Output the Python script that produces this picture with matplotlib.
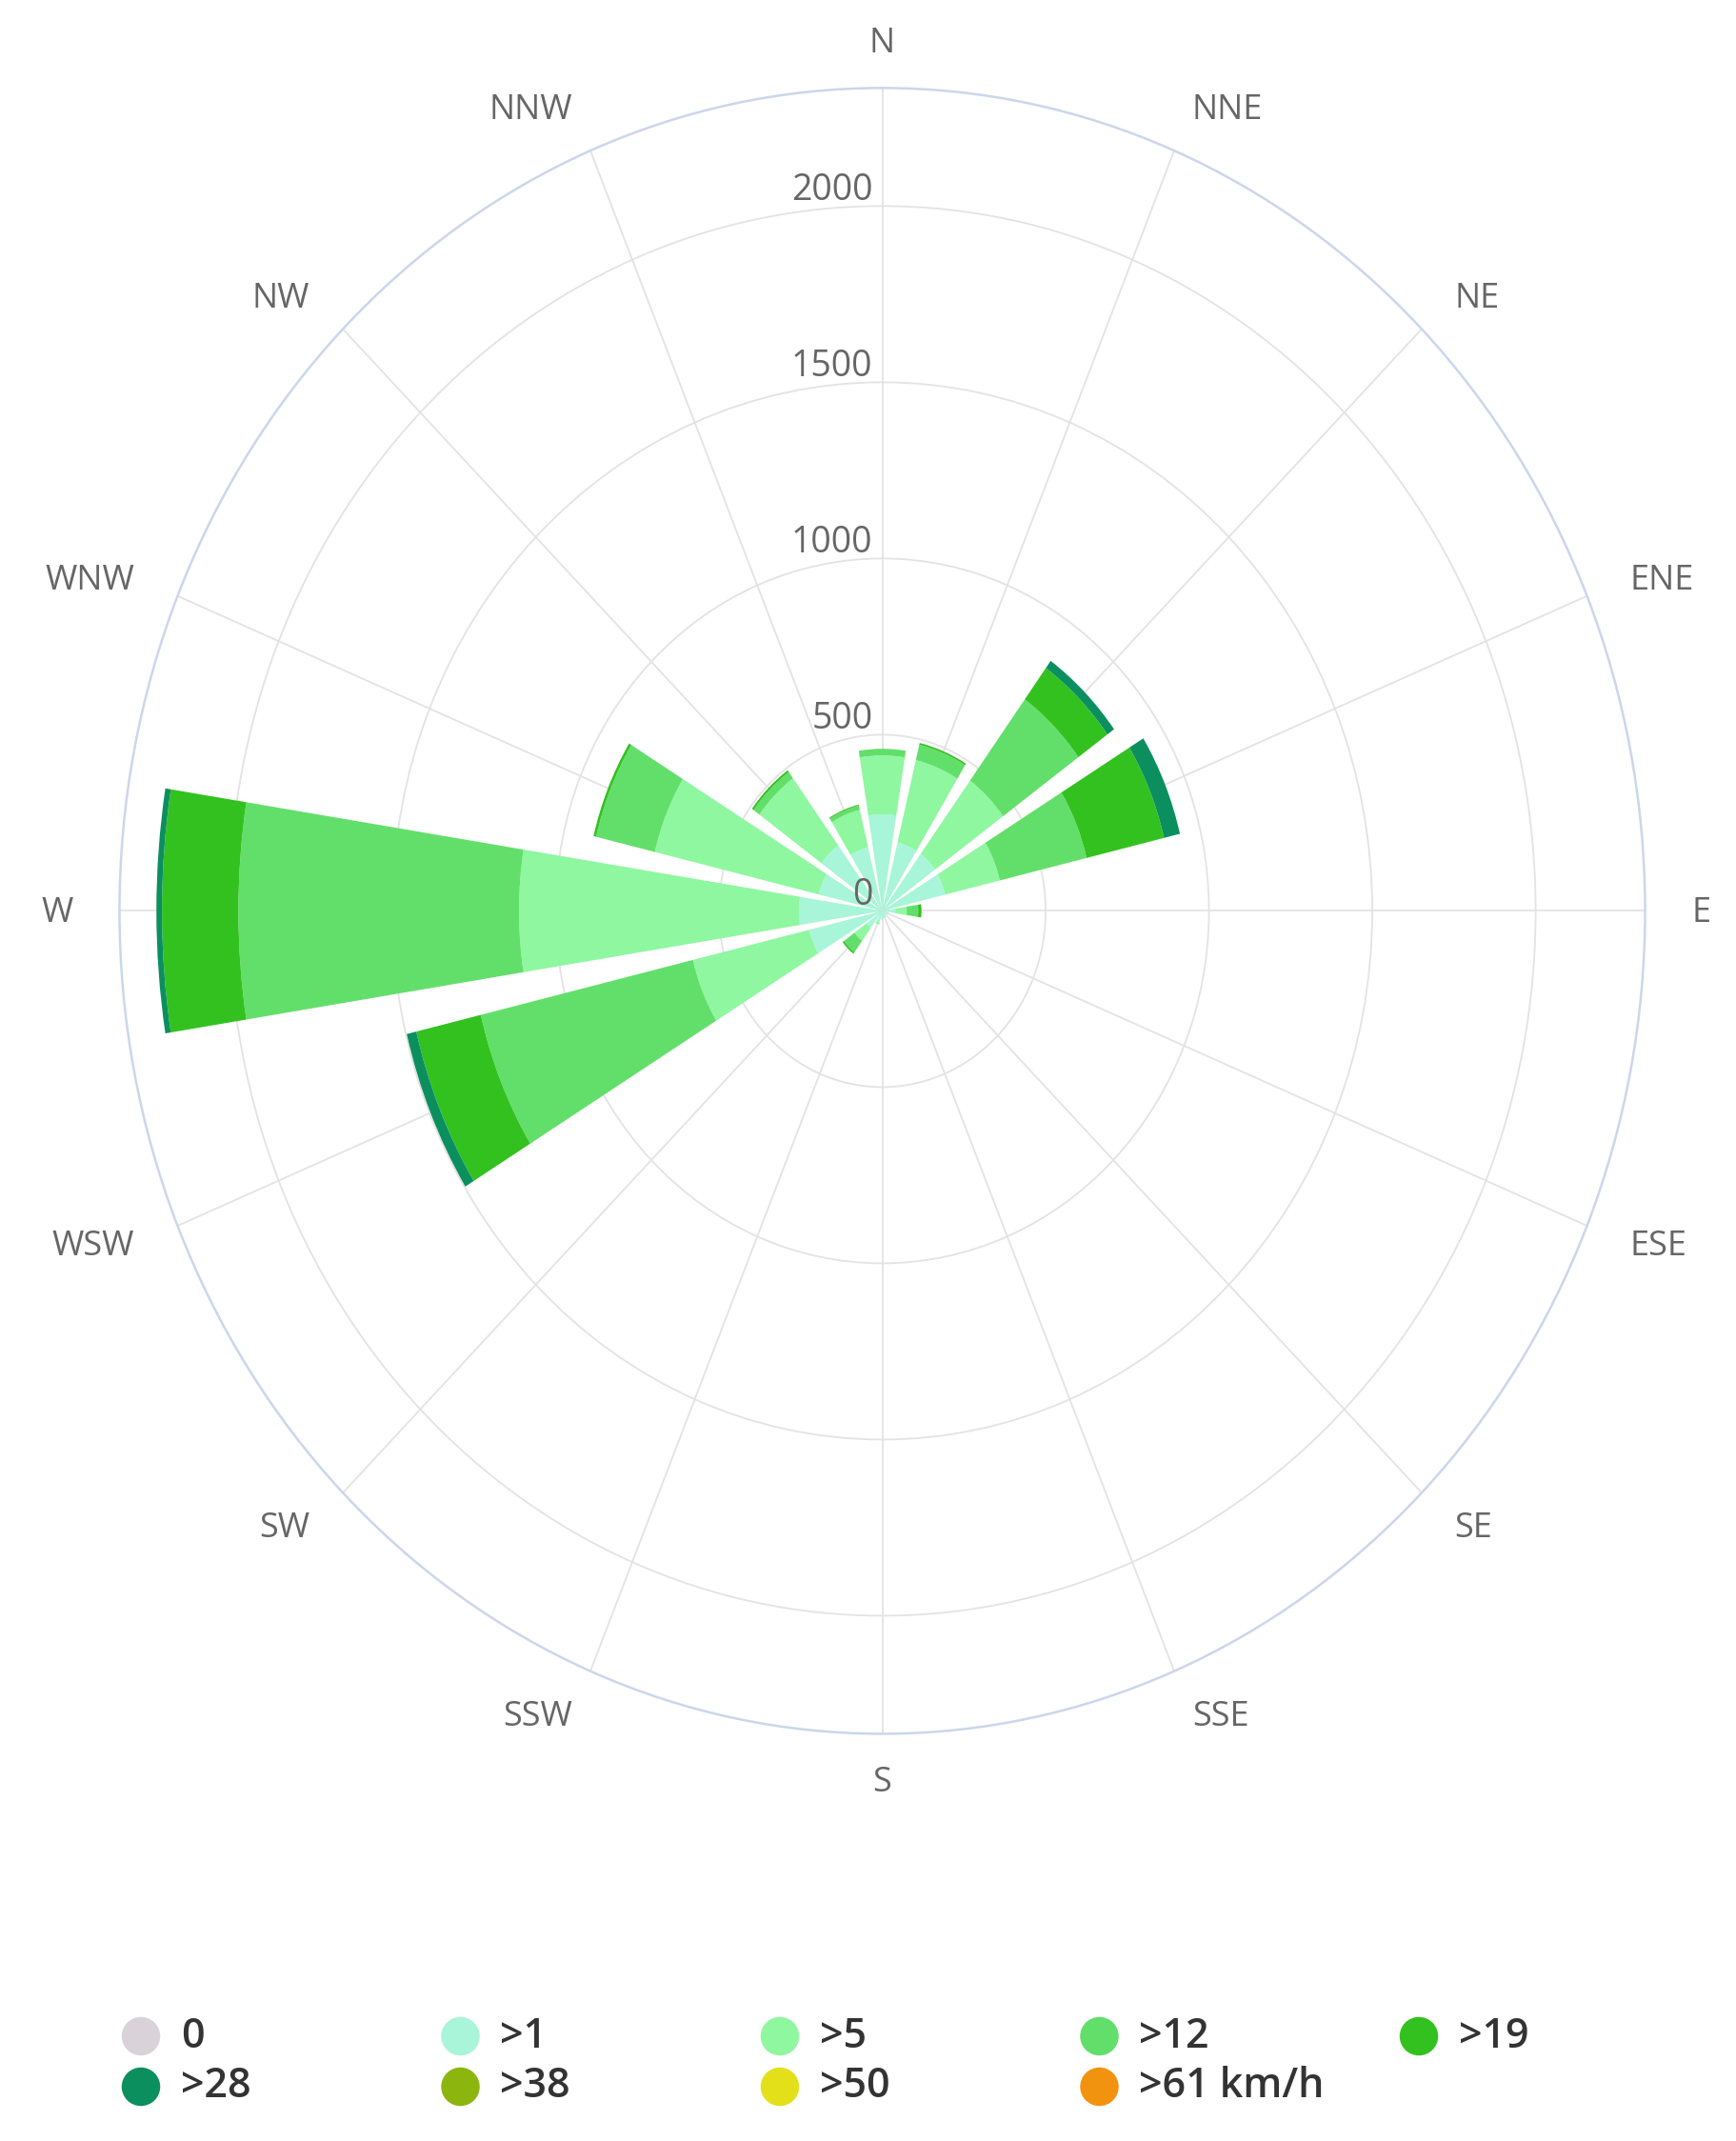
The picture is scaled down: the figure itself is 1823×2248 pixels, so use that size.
import numpy as np
import matplotlib
matplotlib.use("Agg")
import matplotlib.pyplot as plt

plt.rcParams["font.family"] = ["Open Sans", "DejaVu Sans"]

# wind directions (clockwise from north)
directions = ["N", "NNE", "NE", "ENE", "E", "ESE", "SE", "SSE",
              "S", "SSW", "SW", "WSW", "W", "WNW", "NW", "NNW"]

# speed classes
speed_labels = ["0", ">1", ">5", ">12", ">19", ">28", ">38", ">50", ">61 km/h"]
speed_colors = ["#d9d3d9", "#a8f5d9", "#8ef7a0", "#62df6a", "#33c11f",
                "#0b8f5f", "#8cb50d", "#e3e01a", "#f2930f"]

# counts per direction for every speed class (stacked)
calm = [0, 0, 0, 0, 0, 0, 0, 0, 0, 0, 0, 0, 0, 0, 0, 0]
s1 = [274, 200, 200, 198, 40, 20, 15, 20, 25, 35, 60, 230, 255, 200, 230, 186]
s5 = [167, 240, 257, 172, 35, 0, 0, 0, 0, 5, 45, 366, 857, 516, 235, 109]
s12 = [19, 45, 285, 273, 35, 0, 0, 0, 0, 0, 40, 668, 859, 185, 22, 12]
s19 = [0, 5, 110, 244, 10, 0, 0, 0, 0, 0, 5, 203, 234, 8, 6, 3]
s28 = [0, 0, 25, 50, 0, 0, 0, 0, 0, 0, 0, 30, 17, 0, 0, 0]
s38 = [0] * 16
s50 = [0] * 16
s61 = [0] * 16

radial_ticks = [0, 500, 1000, 1500, 2000]
r_max = 2335

series = [calm, s1, s5, s12, s19, s28, s38, s50, s61]

W, H = 1824, 2248
fig = plt.figure(figsize=(W / 100, H / 100), dpi=100)
fig.patch.set_facecolor("white")

ax = fig.add_axes([0.0688, 0.1902, 0.8783, 0.7687], projection="polar")
ax.set_aspect("auto")
ax.set_theta_zero_location("N")
ax.set_theta_direction(-1)
ax.set_ylim(0, r_max)
ax.set_axisbelow(True)

n = len(directions)
sector = 2 * np.pi / n
theta = np.arange(n) * sector

bottom = np.zeros(n)
for vals, col in zip(series, speed_colors):
    vals = np.asarray(vals, dtype=float)
    ax.bar(theta, vals, width=sector * 0.8, bottom=bottom, color=col,
           edgecolor="none", linewidth=0, align="center", zorder=3)
    bottom += vals

# grid
ax.set_xticks(theta)
ax.set_xticklabels([])
ax.set_yticks(radial_ticks[1:])
ax.set_yticklabels([])
ax.xaxis.grid(True, color="#e3e3e3", linewidth=1.3)
ax.yaxis.grid(True, color="#e3e3e3", linewidth=1.3)
ax.tick_params(length=0)
ax.spines["polar"].set_color("#ccd6eb")
ax.spines["polar"].set_linewidth(1.8)

# radial labels along the north axis
for r in radial_ticks:
    ax.annotate(str(r), xy=(0, r), xytext=(-10, 16), textcoords="offset pixels",
                ha="right", va="center", fontsize=27, color="#666666", zorder=5)

# direction labels, anchored just outside the pane
for t, lab in zip(theta, directions):
    s, c = np.sin(t), np.cos(t)
    if s > 0.01:
        ha = "left"
    elif s < -0.01:
        ha = "right"
    else:
        ha = "center"
    ax.annotate(lab, xy=(t, r_max), xytext=(49 * s, 49 * c - 3),
                textcoords="offset pixels", ha=ha, va="center",
                fontsize=26, color="#666666", annotation_clip=False)

# legend drawn on a full-figure overlay
lax = fig.add_axes([0, 0, 1, 1], zorder=-1)
lax.set_xlim(0, W)
lax.set_ylim(H, 0)
lax.axis("off")
x0, dx = 148, 335.5
y_rows = [2138, 2191]
for i, (lab, col) in enumerate(zip(speed_labels, speed_colors)):
    row, c = divmod(i, 5)
    x = x0 + c * dx
    y = y_rows[row]
    lax.scatter([x], [y], s=850, color=col, edgecolors="none")
    lax.text(x + 42, y, lab, ha="left", va="center", fontsize=31,
             fontweight="semibold", color="#333333")

fig.savefig("out.png", dpi=100, facecolor="white")
